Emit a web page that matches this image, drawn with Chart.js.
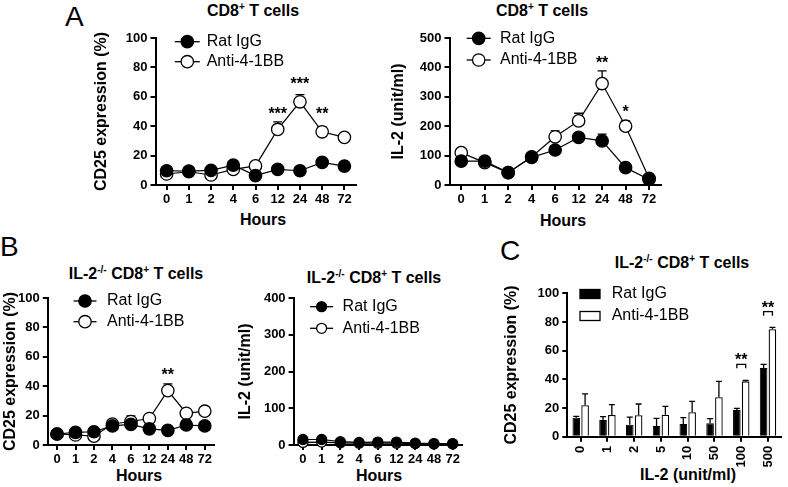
<!DOCTYPE html>
<html>
<head>
<meta charset="utf-8">
<script src="https://cdn.jsdelivr.net/npm/chart.js@4.4.0/dist/chart.umd.min.js"></script>
<style>
    body { margin: 0; background: #fff; width: 788px; height: 487px; overflow: hidden; position: relative; }
    canvas { position: absolute; }
    .txt { position: absolute; font: bold 16px "Liberation Sans", Arial, sans-serif; line-height: 16px; white-space: nowrap; color: #000; transform: translateX(-50%); }
    .txt sup { font-size: 10px; line-height: 0; vertical-align: 6px; }
    .letter { position: absolute; font: 28px "Liberation Sans", Arial, sans-serif; line-height: 28px; color: #000; }
</style>
</head>
<body>
<div class="letter" style="left:65px;top:3px">A</div>
<div class="letter" style="left:0px;top:233px">B</div>
<div class="letter" style="left:500px;top:237px">C</div>

<div class="txt" style="left:253px;top:3px">CD8<sup>+</sup> T cells</div>
<div class="txt" style="left:542px;top:3px">CD8<sup>+</sup> T cells</div>
<div class="txt" style="left:136px;top:266px">IL-2<sup>-/-</sup> CD8<sup>+</sup> T cells</div>
<div class="txt" style="left:374px;top:270px">IL-2<sup>-/-</sup> CD8<sup>+</sup> T cells</div>
<div class="txt" style="left:682px;top:255px">IL-2<sup>-/-</sup> CD8<sup>+</sup> T cells</div>

<div class="txt" style="left:263px;top:212px">Hours</div>
<div class="txt" style="left:563px;top:213px">Hours</div>
<div class="txt" style="left:139px;top:468px">Hours</div>
<div class="txt" style="left:379px;top:468px">Hours</div>
<div class="txt" style="left:688px;top:467px">IL-2 (unit/ml)</div>

<canvas id="cd25A"></canvas>
<canvas id="il2A"></canvas>
<canvas id="cd25B"></canvas>
<canvas id="il2B"></canvas>
<canvas id="doseC"></canvas>

<script>
// ---- data ----
const hours = ["0", "1", "2", "4", "6", "12", "24", "48", "72"]
const doses = ["0", "1", "2", "5", "10", "50", "100", "500"]
const seriesNames = ["Rat IgG", "Anti-4-1BB"]

// A: wild type CD8+ T cells
const cd25RatA = [9.7, 9.5, 10, 13.5, 6.4, 10.6, 9.7, 15.4, 12.9]
const cd25AntiA = [7.5, 9, 6.8, 10.6, 13, 37.8, 56.6, 36.2, 32.4]
const cd25AntiAErr = [null, null, null, null, null, 43, 61.5, 39.6, null]

const il2RatA = [81, 81, 42, 94, 119, 162, 150, 59, 19]
const il2AntiA = [110, 76, 42, 96, 164, 218, 345, 200, 23]
const il2RatAErr = [null, null, null, null, null, 178, 173, null, null]
const il2AntiAErr = [null, null, null, null, 184, 244, 388, 218, null]

// B: IL-2 -/- CD8+ T cells
const cd25RatB = [7.5, 8.6, 9, 13, 14, 11, 10, 13.6, 13]
const cd25AntiB = [7.5, 6.8, 6, 14.3, 16, 18, 37, 21.6, 23]
const cd25RatBErr = [null, null, null, null, null, null, null, 17, null]
const cd25AntiBErr = [null, null, null, null, 19.8, null, 41.6, null, null]

const il2RatB = [15, 15, 9, 7, 8, 8, 5, 4, 4]
const il2AntiB = [7, 8, 6, 5, 5, 5, 4, 3, 3]

// C: CD25 vs IL-2 dose
const cd25RatC = [13.2, 11.6, 8.4, 7.5, 8.9, 9.3, 18.6, 47.9]
const cd25RatCErr = [14.2, 14, 13.7, 12.8, 13.3, 12.6, 19.8, 50.5]
const cd25AntiC = [21.9, 15.2, 15.0, 15.3, 17, 27.5, 38.6, 74.9]
const cd25AntiCErr = [29.8, 22.3, 22.8, 21.2, 24.7, 38.6, 39.3, 76.3]

// significance marks: category index, y value of the mark, text (bracket = y of bracket top)
const sigCd25A = [{ index: 5, value: 51, text: "***" }, { index: 6, value: 71.2, text: "***" }, { index: 7, value: 51, text: "**" }]
const sigIl2A = [{ index: 6, value: 428, text: "**" }, { index: 7, value: 262, text: "*" }]
const sigCd25B = [{ index: 6, value: 50.5, text: "**" }]
const sigDoseC = [{ index: 6, value: 56, text: "**", bracket: 50.5 }, { index: 7, value: 92.2, text: "**", bracket: 87.2 }]

const FONT = '"Liberation Sans", Arial, sans-serif'
Chart.defaults.font.family = FONT
Chart.defaults.font.size = 13
Chart.defaults.color = "#000"

// one-sided (upper) error bars
const errorBarPlugin = {
    id: "errorBars",
    beforeDatasetsDraw(chart) {
        const ctx = chart.ctx
        const yScale = chart.scales.y
        chart.data.datasets.forEach((ds, i) => {
            if (!ds.errorTop) return
            const meta = chart.getDatasetMeta(i)
            const cap = chart.config.type === "bar" ? 3 : 4.5
            ctx.save()
            ctx.strokeStyle = "#000"
            ctx.lineWidth = 1.3
            meta.data.forEach((el, j) => {
                const top = ds.errorTop[j]
                if (top == null) return
                const yTop = yScale.getPixelForValue(top)
                ctx.beginPath()
                ctx.moveTo(el.x, el.y)
                ctx.lineTo(el.x, yTop)
                ctx.moveTo(el.x - cap, yTop)
                ctx.lineTo(el.x + cap, yTop)
                ctx.stroke()
            })
            ctx.restore()
        })
    }
}

// legend drawn inside the plot, marker on a short line like the original
const legendPlugin = {
    id: "panelLegend",
    afterDraw(chart, args, opts) {
        const { ctx, chartArea } = chart
        chart.data.datasets.forEach((ds, i) => {
            const cx = chartArea.left + opts.dx
            const cy = chartArea.top + opts.dy + i * opts.gap
            ctx.save()
            ctx.strokeStyle = "#000"
            ctx.lineWidth = 1.3
            if (opts.box) {
                ctx.fillStyle = ds.backgroundColor
                ctx.fillRect(cx - 10, cy - 4.5, 20, 9)
                ctx.strokeRect(cx - 10, cy - 4.5, 20, 9)
            } else {
                ctx.beginPath()
                ctx.moveTo(cx - opts.half, cy)
                ctx.lineTo(cx + opts.half, cy)
                ctx.stroke()
                ctx.beginPath()
                ctx.arc(cx, cy, opts.r, 0, Math.PI * 2)
                ctx.fillStyle = ds.pointBackgroundColor
                ctx.fill()
                ctx.stroke()
            }
            ctx.fillStyle = "#000"
            ctx.font = "16px " + FONT
            ctx.textBaseline = "middle"
            ctx.textAlign = "left"
            ctx.fillText(ds.label, cx + opts.textGap, cy)
            ctx.restore()
        })
    }
}

// asterisks (and brackets for the bar chart)
const sigPlugin = {
    id: "sigMarks",
    afterDatasetsDraw(chart, args, opts) {
        const { ctx } = chart
        const xScale = chart.scales.x
        const yScale = chart.scales.y
        ;(opts.marks || []).forEach(m => {
            const px = xScale.getPixelForValue(m.index)
            ctx.save()
            ctx.strokeStyle = "#000"
            ctx.lineWidth = 1.3
            if (m.bracket != null) {
                const a = chart.getDatasetMeta(0).data[m.index].x
                const b = chart.getDatasetMeta(1).data[m.index].x
                const by = yScale.getPixelForValue(m.bracket)
                ctx.beginPath()
                ctx.moveTo(a, by + 4)
                ctx.lineTo(a, by)
                ctx.lineTo(b, by)
                ctx.lineTo(b, by + 4)
                ctx.stroke()
            }
            ctx.fillStyle = "#000"
            ctx.font = "bold 16px " + FONT
            ctx.textAlign = "center"
            ctx.textBaseline = "alphabetic"
            ctx.fillText(m.text, (m.bracket != null) ? (chart.getDatasetMeta(0).data[m.index].x + chart.getDatasetMeta(1).data[m.index].x) / 2 : px, yScale.getPixelForValue(m.value) + 9)
            ctx.restore()
        })
    }
}

function lineSeries(label, values, errors, filled, radius) {
    return {
        label: label,
        data: values,
        errorTop: errors,
        borderColor: "#000",
        borderWidth: 1.2,
        pointRadius: radius,
        pointBorderWidth: 1.3,
        pointBorderColor: "#000",
        pointBackgroundColor: filled ? "#000" : "#fff",
        tension: 0,
        clip: false
    }
}

// box: pixel frame of the plot area and the y title centre
function makePanel(canvasId, box, cfg) {
    const canvas = document.getElementById(canvasId)
    const left = Math.round(box.yTitleX - 9.6)
    const top = Math.round(box.top) - 12
    const width = Math.ceil(box.right - left) + 8
    const height = Math.ceil(box.bottom - top) + box.xAxisHeight
    canvas.width = width
    canvas.height = height
    canvas.style.left = left + "px"
    canvas.style.top = top + "px"
    canvas.style.width = width + "px"
    canvas.style.height = height + "px"
    const yWidth = box.left - left
    const xHeight = height - (box.bottom - top)
    const axisGrid = { display: true, drawOnChartArea: false, offset: false, color: "#000", lineWidth: 2, tickLength: 5 }
    const axisBorder = { display: true, color: "#000", width: 2 }

    return new Chart(canvas, {
        type: cfg.type,
        data: { labels: cfg.labels, datasets: cfg.datasets },
        options: {
            responsive: false,
            animation: false,
            devicePixelRatio: 1,
            layout: { padding: { left: 0, top: box.top - top, right: width - (box.right - left), bottom: 0 } },
            scales: {
                x: {
                    offset: true,
                    grid: axisGrid,
                    border: axisBorder,
                    ticks: { font: { size: 13, weight: "bold" }, padding: cfg.xPad, autoSkip: false, maxRotation: cfg.rotation, minRotation: cfg.rotation },
                    afterFit: s => { s.height = xHeight }
                },
                y: {
                    min: 0,
                    max: cfg.yMax,
                    grid: axisGrid,
                    border: axisBorder,
                    ticks: { stepSize: cfg.yStep, font: { size: 13, weight: "bold" }, padding: 3 },
                    title: { display: true, text: cfg.yTitle, font: { size: 16, weight: "bold" }, padding: 0 },
                    afterFit: s => { s.width = yWidth }
                }
            },
            plugins: {
                legend: { display: false },
                tooltip: { enabled: false },
                panelLegend: cfg.legend,
                sigMarks: { marks: cfg.marks || [] }
            }
        },
        plugins: [errorBarPlugin, legendPlugin, sigPlugin]
    })
}

makePanel("cd25A", { yTitleX: 102, left: 155.5, right: 355.5, top: 38, bottom: 185, xAxisHeight: 30 }, {
    type: "line", labels: hours, yMax: 100, yStep: 20, yTitle: "CD25 expression (%)", xPad: 2, rotation: 0,
    datasets: [lineSeries(seriesNames[0], cd25RatA, null, true, 6.2), lineSeries(seriesNames[1], cd25AntiA, cd25AntiAErr, false, 6.2)],
    legend: { dx: 31.8, dy: 3.7, gap: 20, r: 6.2, half: 12.5, textGap: 19.4 },
    marks: sigCd25A
})

makePanel("il2A", { yTitleX: 398.7, left: 449.5, right: 660.8, top: 38, bottom: 185, xAxisHeight: 30 }, {
    type: "line", labels: hours, yMax: 500, yStep: 100, yTitle: "IL-2 (unit/ml)", xPad: 2, rotation: 0,
    datasets: [lineSeries(seriesNames[0], il2RatA, il2RatAErr, true, 6.2), lineSeries(seriesNames[1], il2AntiA, il2AntiAErr, false, 6.2)],
    legend: { dx: 29.2, dy: 0.3, gap: 21.7, r: 6.2, half: 12, textGap: 21.3 },
    marks: sigIl2A
})

makePanel("cd25B", { yTitleX: 11, left: 47.8, right: 214, top: 298, bottom: 445, xAxisHeight: 30 }, {
    type: "line", labels: hours, yMax: 100, yStep: 20, yTitle: "CD25 expression (%)", xPad: 2, rotation: 0,
    datasets: [lineSeries(seriesNames[0], cd25RatB, cd25RatBErr, true, 6.2), lineSeries(seriesNames[1], cd25AntiB, cd25AntiBErr, false, 6.2)],
    legend: { dx: 37.2, dy: 3, gap: 20.7, r: 6.2, half: 11.5, textGap: 22 },
    marks: sigCd25B
})

makePanel("il2B", { yTitleX: 246, left: 293.6, right: 462, top: 298, bottom: 445, xAxisHeight: 30 }, {
    type: "line", labels: hours, yMax: 400, yStep: 100, yTitle: "IL-2 (unit/ml)", xPad: 2, rotation: 0,
    datasets: [lineSeries(seriesNames[0], il2RatB, null, true, 5), lineSeries(seriesNames[1], il2AntiB, null, false, 5)],
    legend: { dx: 28, dy: 8.7, gap: 21.6, r: 5, half: 11.5, textGap: 21 }
})

makePanel("doseC", { yTitleX: 511.7, left: 567.3, right: 781.4, top: 293.3, bottom: 436.7, xAxisHeight: 36 }, {
    type: "bar", labels: doses, yMax: 100, yStep: 20, yTitle: "CD25 expression (%)", xPad: 4, rotation: 90,
    datasets: [
        { label: seriesNames[0], data: cd25RatC, errorTop: cd25RatCErr, backgroundColor: "#000", borderColor: "#000", borderWidth: 1, categoryPercentage: 0.66, barPercentage: 0.86 },
        { label: seriesNames[1], data: cd25AntiC, errorTop: cd25AntiCErr, backgroundColor: "#fff", borderColor: "#000", borderWidth: 1.3, categoryPercentage: 0.66, barPercentage: 0.86 }
    ],
    legend: { dx: 22.7, dy: 0.7, gap: 22, box: true, textGap: 21.7 },
    marks: sigDoseC
})
</script>
</body>
</html>
